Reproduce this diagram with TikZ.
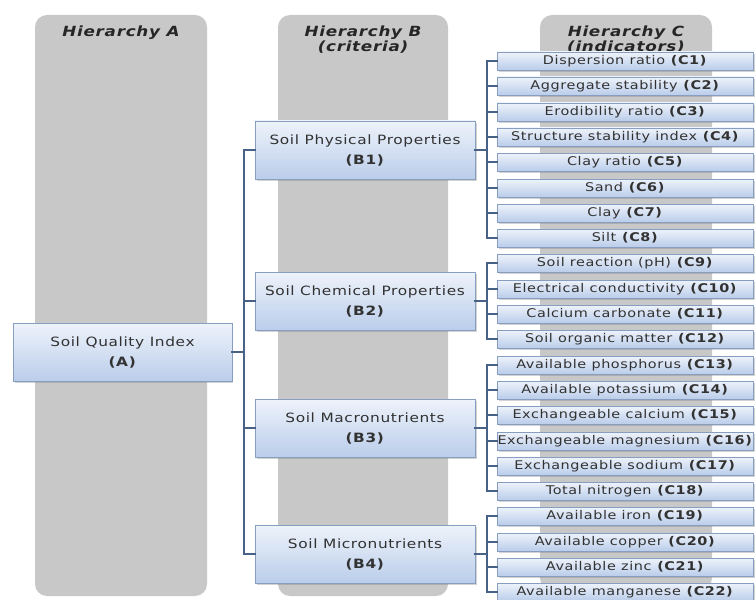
\documentclass[tikz,border=0pt]{standalone}
\usepackage{fontspec}
\setmainfont{DejaVu Sans}[FakeStretch=1.2,LetterSpace=5]
\usetikzlibrary{shadows}
\definecolor{colgray}{RGB}{200,200,200}
\definecolor{boxtop}{RGB}{238,243,251}
\definecolor{boxbot}{RGB}{186,205,234}
\definecolor{boxline}{RGB}{135,158,192}
\definecolor{linkblue}{RGB}{72,98,135}
\definecolor{txtgray}{RGB}{50,50,50}

\begin{document}
\begin{tikzpicture}[x=0.75pt, y=-0.75pt,
    column/.style={fill=colgray, draw=none, rounded corners=9pt},
    heading/.style={font=\fontsize{10.5}{9.3}\selectfont\bfseries\itshape, text=black!85, align=center, anchor=north, inner sep=0pt},
    box/.style={draw=boxline, top color=boxtop, bottom color=boxbot, text=txtgray, align=center, inner sep=0pt,
        drop shadow={shadow xshift=1.2pt, shadow yshift=-1.5pt, opacity=0.35}},
    abox/.style={box, minimum width=164pt, minimum height=43.5pt, font=\fontsize{9.6}{15}\selectfont},
    bbox/.style={abox, minimum width=165pt},
    cbox/.style={box, minimum width=192pt, minimum height=13.5pt, font=\fontsize{9}{10}\selectfont},
    link/.style={draw=linkblue, line width=1.5pt, line cap=rect}]

    \useasboundingbox (0,0) rectangle (755,599);

    % grey columns behind the three levels
    \fill[column] (35,15) rectangle (207,596);
    \fill[column] (278,15) rectangle (448,596);
    \fill[column] (540,15) rectangle (712,590);
    \node[heading] (hA) at (121,26) {Hierarchy A};
    \node[heading] (hB) at (363,26) {Hierarchy B\\(criteria)};
    \node[heading] (hC) at (626,26) {Hierarchy C\\(indicators)};

    % goal
    \node[abox] (sqi) at (122.5,352) {Soil Quality Index\\\textbf{(A)}};

    % criteria
    \node[bbox] (phys) at (365,150) {Soil Physical Properties\\\textbf{(B1)}};
    \node[bbox] (chem) at (365,301) {Soil Chemical Properties\\\textbf{(B2)}};
    \node[bbox] (macro) at (365,428) {Soil Macronutrients\\\textbf{(B3)}};
    \node[bbox] (micro) at (365,554) {Soil Micronutrients\\\textbf{(B4)}};

    % indicators
    \foreach \lbl [count=\i] in {Dispersion ratio, Aggregate stability, Erodibility ratio,
        Structure stability index, Clay ratio, Sand, Clay, Silt, Soil reaction (pH),
        Electrical conductivity, Calcium carbonate, Soil organic matter,
        Available phosphorus, Available potassium, Exchangeable calcium,
        Exchangeable magnesium, Exchangeable sodium, Total nitrogen,
        Available iron, Available copper, Available zinc, Available manganese}
        \node[cbox] (c\i) at (625,{round(61+(\i-1)*25.3)}) {\lbl\ \textbf{(C\i)}};

    % tree lines
    \coordinate (bbar) at (244,0);
    \coordinate (cbar) at (487,0);
    \draw[link] (sqi.east) -- (sqi.east -| bbar);
    \draw[link] (phys.west -| bbar) -- (micro.west -| bbar);
    \foreach \b in {phys,chem,macro,micro}
        \draw[link] (\b.west -| bbar) -- (\b.west);
    \foreach \b/\first/\last in {phys/1/8, chem/9/12, macro/13/18, micro/19/22} {
        \draw[link] (\b.east) -- (\b.east -| cbar);
        \draw[link] (c\first.west -| cbar) -- (c\last.west -| cbar);
        \foreach \c in {\first,...,\last}
            \draw[link] (c\c.west -| cbar) -- (c\c.west);
    }
\end{tikzpicture}
\end{document}
